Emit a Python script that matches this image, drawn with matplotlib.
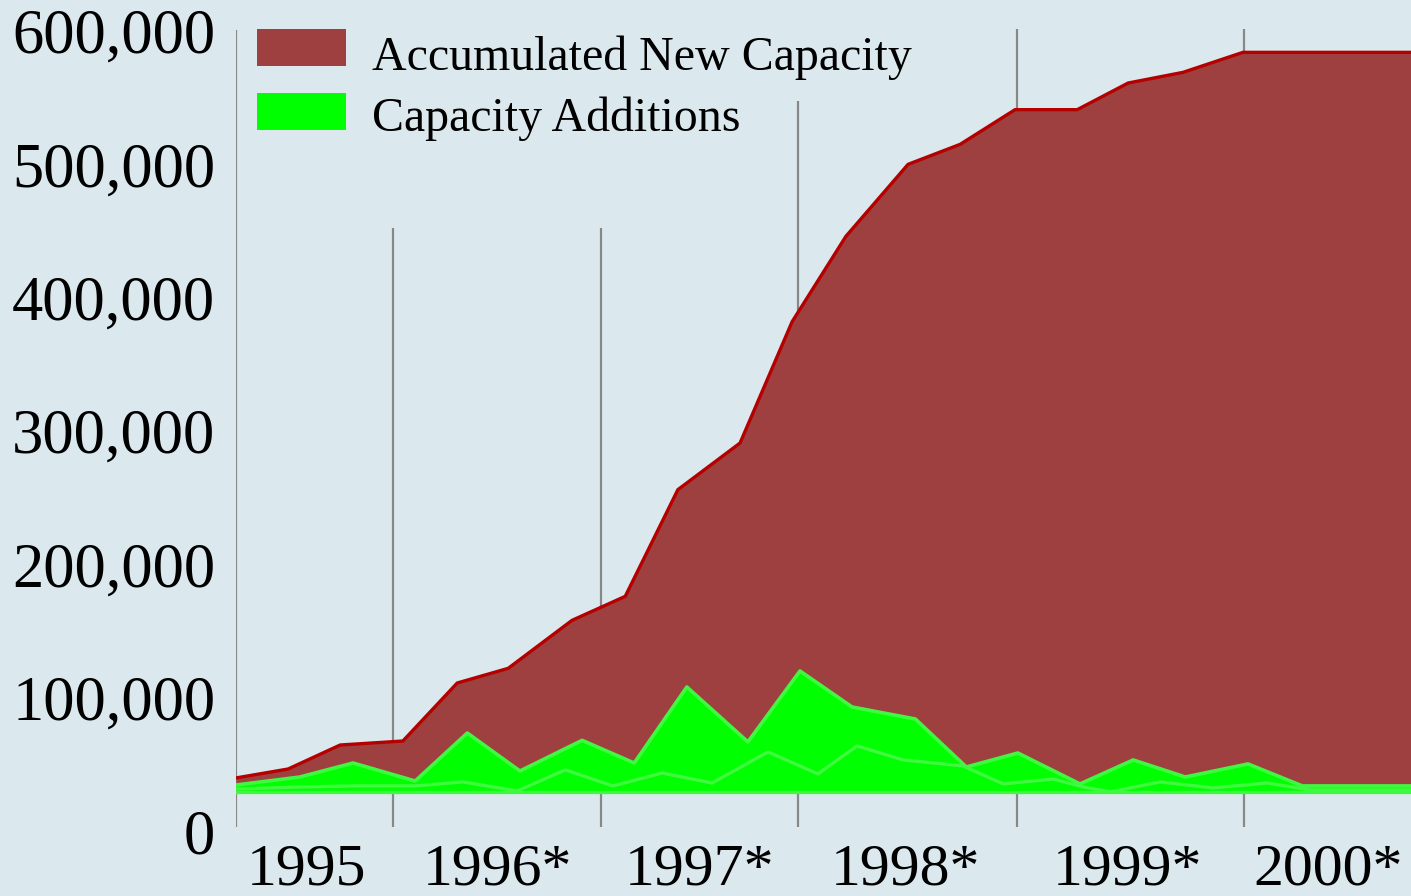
import matplotlib
matplotlib.use("Agg")
import matplotlib.pyplot as plt
from matplotlib.patches import Rectangle

# ---------------- data ----------------
# x positions are in "period" units along the time axis
acc_x = [0, 0.93, 1.86, 2.98, 3.95, 4.86, 6.0, 6.95, 7.89, 9.0, 9.93, 10.89,
         12.0, 12.93, 13.91, 15.02, 15.93, 16.91, 17.98, 20.98]
acc_y = [39800, 46500, 64500, 67500, 111000, 122000, 158000, 176000, 256000,
         291000, 382000, 446000, 500000, 515000, 541000, 541000, 561000,
         569000, 584000, 584000]

add_x = [0, 1.14, 2.09, 3.20, 4.13, 5.07, 6.18, 7.11, 8.05, 9.14, 10.07, 11.0,
         12.13, 13.04, 13.96, 15.07, 16.02, 16.95, 18.07, 19.04, 20.98]
add_y = [34500, 40500, 51000, 37500, 73500, 45000, 68000, 51000, 108000, 66800,
         120000, 93000, 84000, 48000, 58500, 35300, 53300, 40500, 50300, 33800,
         33800]

sub_x = [0, 1.14, 2.09, 3.20, 4.05, 5.02, 5.88, 6.73, 7.61, 8.50, 9.50, 10.39,
         11.09, 11.91, 12.98, 13.70, 14.59, 15.13, 15.61, 16.50, 17.45, 18.41,
         19.18, 20.98]
sub_y = [31500, 33000, 33800, 33800, 36800, 30000, 45800, 33800, 43500, 36000,
         59300, 42800, 63800, 53300, 48800, 35300, 39000, 33000, 29300, 36800,
         32300, 36000, 30800, 30800]

base_value = 30000

sep_x = [0, 2.80, 6.52, 10.04, 13.95, 18.0]
sep_top = [600700, 452000, 452000, 547500, 601500, 601500]
sep_bottom = 3000

year_labels = ["1995", "1996*", "1997*", "1998*", "1999*", "2000*"]
year_pos = [1.25, 4.66, 8.28, 11.95, 15.92, 19.5]

y_ticks = [0, 100000, 200000, 300000, 400000, 500000, 600000]

legend_labels = ["Accumulated New Capacity", "Capacity Additions"]

# ---------------- style ----------------
BG = "#dbe9ee"
RED_FILL = "#9e4040"
RED_LINE = "#b50000"
GREEN_FILL = "#00ff00"
GREEN_EDGE = "#40f840"
SEP = "#888888"
FONT = "Liberation Serif"

W, H = 1411, 896
fig = plt.figure(figsize=(W / 100, H / 100), dpi=100, facecolor=BG)
ax_left, ax_bottom = 236 / W, (H - 831) / H
ax = fig.add_axes([ax_left, ax_bottom, 1 - ax_left, 831 / H])
ax.set_facecolor(BG)
for s in ax.spines.values():
    s.set_visible(False)

ax.set_xlim(0, 20.98)
ax.set_ylim(0, 623250)

# separators
ax.vlines(sep_x, sep_bottom, sep_top, colors=SEP, linewidth=1.6, zorder=1)

# accumulated capacity
ax.fill_between(acc_x, base_value, acc_y, color=RED_FILL, linewidth=0, zorder=2)
ax.plot(acc_x, acc_y, color=RED_LINE, linewidth=2.4, zorder=3,
        solid_joinstyle="miter")

# capacity additions
ax.fill_between(add_x, base_value, add_y, color=GREEN_FILL, linewidth=0, zorder=4)
ax.plot(add_x, add_y, color=GREEN_EDGE, linewidth=2.6, zorder=5)
ax.plot(sub_x, sub_y, color=GREEN_EDGE, linewidth=2.4, zorder=5)
ax.plot([0, 20.98], [base_value - 800, base_value - 800], color=GREEN_EDGE,
        linewidth=2.4, zorder=5)

# ticks
ax.set_yticks(y_ticks)
ax.set_yticklabels([f"{v:,}" for v in y_ticks], fontsize=45, family=FONT)
ax.set_xticks(year_pos)
ax.set_xticklabels(year_labels, fontsize=43, family=FONT)
ax.tick_params(axis="y", length=0, pad=15)
ax.tick_params(axis="x", length=0, pad=9)

# legend (manual)
box_w, box_h = 89 / W, 37 / H
baselines = [70, 131]
for i, (lab, col) in enumerate(zip(legend_labels, [RED_FILL, GREEN_FILL])):
    y0 = 1 - (66 + i * 64) / H
    fig.patches.append(Rectangle((257 / W, y0), box_w, box_h, transform=fig.transFigure,
                                 facecolor=col, edgecolor="none"))
    fig.text(372 / W, 1 - baselines[i] / H, lab, fontsize=34.5, family=FONT,
             va="baseline", ha="left")

fig.savefig("out.png", dpi=100, facecolor=BG)
